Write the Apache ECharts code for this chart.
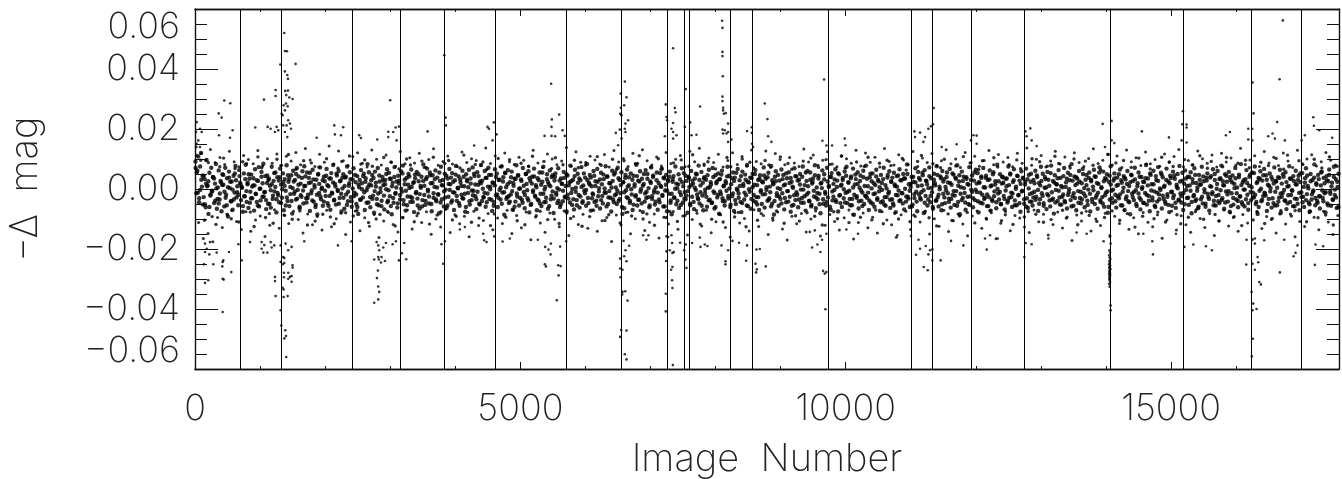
<!DOCTYPE html>
<html>
<head>
<meta charset="utf-8">
<style>
  html, body { margin: 0; padding: 0; background: #fff; }
  #chart { width: 1342px; height: 479px; }
</style>
<script src="https://cdn.jsdelivr.net/npm/echarts@6/dist/echarts.min.js"></script>
</head>
<body>
<div id="chart"></div>
<script>
// all magnitudes below are in units of 0.0001 mag
var xMax = 17580;
var xMajor = [0, 5000, 10000, 15000];
var xMinor = [1000, 2000, 3000, 4000, 6000, 7000, 8000, 9000, 11000, 12000, 13000, 14000, 16000, 17000];
var breaks = [697, 1318, 2419, 3154, 3834, 4613, 5705, 6555, 7261, 7522, 7599, 8223, 8571, 9734, 11003, 11336, 11931, 12745, 14060, 15181, 16237, 17000];

// points, above the band
var upX = [1372,1382,1413,1311,1546,1382,1418,1429,1239,1239,1387,1429,1402,1449,1500,1060,450,542,3000,3830,364,410,
  1332,1362,1398,1424,1382,1347,1433,1459,1408,1356,1475,1382,1418,926,1116,1163,1255,1229,1280,2140,2278,2150,2243,1869,2524,2550,2801,
  3134,3083,2970,3046,3098,2970,3574,3851,3856,26,15,77,103,51,26,77,579,369,538,
  5473,5484,5596,5479,5372,5479,5535,5648,5684,4496,4516,4593,4634,4573,4290,6605,6544,6631,6595,6544,
  6533,6555,6656,6615,6605,6528,6467,6615,6555,6503,7347,7235,7245,7255,7373,7384,7347,7322,7347,7399,7220,7347,7542,7609,7527,7630,7706,7762,
  8100,8106,8106,8106,8111,8106,8106,8116,8116,8126,8157,8106,8141,8192,8192,8167,8116,8244,8192,8756,8797,8807,8858,8484,8556,8556,8561,8577,9667,9642,9703,9985,9995,9790,
  11352,11270,11310,11341,11055,11142,11065,11219,11194,11961,12012,11925,12012,11705,11475,12760,12837,12780,12857,12934,13948,14086,14086,14127,13984,14551,14966,
  15181,15172,15238,15238,15161,15238,15842,15904,16252,16267,16186,16247,16186,16247,16717,16667,16631,16492,16559,16594,16748,17184,17194,17276,17055,17005,17476];
var upY = [520,460,459,415,417,392,380,367,330,310,327,328,313,305,300,298,295,286,296,446,252,238,
  251,279,285,276,262,246,229,218,212,212,201,190,173,205,207,201,207,190,196,212,206,182,179,171,179,170,165,
  208,205,191,190,162,173,192,238,212,223,190,201,190,162,151,140,196,179,171,
  351,232,248,207,177,177,176,196,177,207,201,222,182,162,145,358,318,306,279,271,
  251,246,229,218,201,198,187,190,168,146,469,282,240,229,270,256,220,201,190,179,176,168,333,222,207,179,181,275,
  561,537,457,443,376,308,293,271,262,251,253,198,196,218,190,185,185,165,157,285,233,176,157,193,206,187,151,140,365,161,145,168,146,145,
  270,201,209,216,192,188,173,173,157,179,178,162,151,149,140,192,202,176,162,143,217,227,162,153,140,192,172,
  259,216,215,205,162,155,179,190,355,252,201,201,165,162,562,366,223,176,185,168,162,239,211,196,179,162,171];

// points, below the band
var downX = [425,558,425,441,204,154,281,138,420,435,425,522,333,220,154,180,154,230,717,666,845,
  1024,1050,1111,1178,1218,1065,1024,1163,1229,1229,1239,1316,1326,1387,1398,1372,1402,1362,1424,1347,1362,
  1367,1433,1367,1433,1459,1485,1485,1500,1500,1316,1347,1372,1357,1372,1433,1485,1393,1316,1679,2197,
  2754,2816,2831,2816,2796,2811,2754,2826,2857,2919,2816,2867,2893,2831,2791,2816,2934,3037,3088,3180,3134,3246,3215,3814,3788,3840,2407,
  5561,5587,5581,5618,5376,5392,5464,5433,5381,5469,5611,5704,5269,4839,4727,4598,4481,4444,4429,4071,4147,
  6647,6570,6611,6565,6631,6549,6533,6605,6631,6533,6533,6570,6539,6631,6595,6615,6672,6585,6887,6969,6938,
  7343,7235,7235,7332,7337,7317,7337,7245,7240,7296,7337,7358,7332,7455,7271,7245,7322,7537,7552,7542,7516,7639,7768,7834,7875,7757,
  8152,8152,8192,8091,8259,8361,8484,8469,8613,8633,8623,8771,8628,8679,9688,9652,9703,9677,9483,9565,9611,9636,9447,9524,9703,10010,10189,
  16241,16257,16252,16262,16313,16237,16355,16380,16287,16252,16155,16329,16339,16671,16882,16912,17209,17219,17337,16943,16739,16287,16431,16287,16160,
  13963,14060,14071,14711,14721,15203,15341,15535,15627,12765,12857,12745,13114,13548,13702,12166,12140,12217,12335,11808,11618,11459,
  11080,11142,11229,11270,11295,11331,11331,11198,11260,10794,11003,11118,15074,14573,
  14052,14061,14048,14055,14066,14050,14058,14046,14063,14054,14049,14068,14057,14051,14060,14047,14064,14053,14059,14050,14056,14062,14048,14055,14070,14072];
var downY = [-410,-277,-299,-302,-304,-313,-251,-251,-258,-238,-243,-210,-212,-218,-210,-199,-182,-177,-238,-184,-177,
  -199,-212,-212,-195,-188,-187,-177,-177,-293,-307,-357,-404,-455,-471,-490,-498,-560,-360,-357,-329,-335,
  -279,-279,-294,-299,-293,-290,-309,-254,-262,-243,-251,-247,-227,-230,-204,-193,-182,-188,-174,-188,
  -379,-368,-343,-325,-297,-272,-235,-235,-245,-240,-227,-227,-195,-204,-177,-188,-180,-184,-174,-214,-238,-234,-180,-249,-184,-174,-174,
  -371,-288,-254,-257,-251,-258,-218,-202,-193,-182,-192,-174,-169,-165,-175,-158,-177,-171,-149,-135,-127,
  -372,-343,-341,-352,-472,-470,-493,-551,-568,-232,-265,-269,-294,-241,-224,-204,-189,-173,-154,-154,-169,
  -587,-349,-408,-304,-330,-269,-260,-208,-240,-204,-213,-210,-180,-179,-160,-158,-154,-235,-263,-185,-204,-180,-193,-185,-190,-162,
  -241,-251,-204,-188,-173,-179,-188,-239,-249,-268,-278,-258,-202,-200,-401,-273,-277,-282,-195,-185,-210,-169,-143,-138,-149,-135,-149,
  -558,-499,-404,-382,-400,-343,-310,-318,-269,-249,-252,-227,-244,-278,-224,-213,-253,-185,-191,-188,-169,-182,-171,-165,-169,
  -174,-154,-182,-174,-218,-193,-185,-191,-204,-180,-184,-227,-165,-145,-149,-202,-165,-154,-165,-188,-173,-238,
  -219,-199,-190,-218,-204,-201,-238,-260,-271,-154,-157,-169,-149,-149,
  -204,-212,-221,-228,-233,-240,-246,-251,-255,-259,-263,-267,-271,-275,-279,-283,-287,-291,-295,-299,-304,-310,-317,-326,-388,-404];

// dense band: cannot be read dot by dot, hand estimated row by row along the x axis
var bandY = [
  92,-14,61,108,-31,75,120,8,-52,44, 33,-61,97,12,-83,54,-22,71,-8,39, -47,18,83,-66,5,62,-35,27,-74,49,
  14,-58,71,-19,36,-92,58,3,-41,25, -69,44,-12,77,-28,9,-54,63,21,-37, 6,-76,52,-24,81,-43,16,-63,34,-9,
  48,-31,12,-72,66,-17,29,-55,73,1, -38,57,-26,84,-11,43,-67,20,-49,35, 11,-62,74,-33,27,-8,55,-78,39,-21,
  -44,68,15,-29,52,-71,33,-6,79,-40, 24,-57,7,46,-82,61,-16,30,-35,70, -3,42,-64,18,-26,59,-48,76,10,-31,
  55,-19,37,-73,22,-5,64,-42,13,-60, 31,-85,50,-13,72,-34,4,-56,41,26, -23,67,-47,9,35,-69,53,-15,80,-38,
  17,-52,45,-7,60,-30,28,-75,2,49, -66,38,-18,75,-41,11,56,-27,-59,32, 69,-12,23,-50,43,-83,6,-36,63,19,
  -28,51,-70,36,-4,83,-45,15,-61,29, 47,-22,-79,58,8,-33,70,-54,25,-10, -57,40,13,-68,30,-1,66,-39,54,-24,
  34,-84,21,-46,73,-16,5,-62,44,28, -35,59,-9,78,-51,16,-72,37,-25,50, 3,-43,65,-30,20,-77,48,-14,57,-55,
  26,-65,10,41,-37,82,-20,-53,33,68, -8,-48,55,19,-74,46,-29,7,62,-41, 38,-17,-81,27,74,-34,12,-58,51,-2,
  -63,35,-26,67,16,-45,53,-11,-70,29, 77,-39,4,42,-56,22,-19,61,-32,9, -76,49,31,-13,64,-52,18,-37,72,-6,
  43,-24,-67,56,14,-49,25,80,-40,1, -28,60,-59,37,-15,71,-33,8,47,-73, 20,-44,66,-21,52,-60,30,-3,-35,75,
  -12,39,-86,54,6,-27,63,-47,23,-18, 58,-69,11,34,-42,79,-25,46,-55,2, 32,-36,70,-10,-64,50,17,-31,59,-78,
  27,-50,41,-5,68,-22,13,-71,36,-38, 55,-16,-57,24,74,-44,7,-29,49,-66, 15,62,-34,40,-8,-80,28,52,-19,-47,
  69,-2,-60,35,18,-41,57,-26,10,-74, 45,-32,22,78,-13,-53,31,-68,64,4, -37,51,-20,-62,29,73,-46,12,-6,38,
  -56,83,-30,21,47,-72,9,-15,60,-43, 26,-39,67,-24,3,-65,54,16,-48,33, -11,76,-58,42,-28,-7,19,-75,61,-35,
  48,-21,5,-50,71,-40,30,-14,56,-83, 23,-64,37,-4,65,-31,13,-46,52,-18, -70,44,8,-25,81,-55,28,-36,59,-1,
  34,-77,17,-42,63,-9,50,-27,-61,25, 72,-33,40,-12,-52,6,55,-69,20,-44, 11,66,-23,-58,36,-5,47,-74,29,-16,
  58,-38,-84,24,43,-29,75,-51,2,15, -63,32,-20,69,-45,53,-10,-34,27,-79, 41,7,-54,60,-26,18,-67,35,-3,49,
  -30,78,-48,12,57,-22,-71,39,-13,31, -59,4,64,-36,23,-47,70,-8,-65,46, 19,-28,52,-82,33,-17,61,-41,9,-55,
  26,-6,74,-32,44,-60,16,-24,55,-73, 38,-50,1,67,-15,29,-43,-77,58,10, -35,48,-21,80,-57,22,-9,-66,37,51,
  -40,14,63,-27,-52,30,-70,46,-4,25, -18,72,-62,34,6,-39,54,-31,-11,77, -49,20,-85,41,59,-23,3,-56,28,-33,
  65,-14,47,-68,15,-44,36,-7,56,-26, -76,24,8,-53,69,-37,42,-19,-61,31, 50,-2,-30,75,-46,13,-72,27,60,-12,
  -41,55,-58,18,35,-25,79,-64,5,-34, 44,-16,-81,21,62,-49,32,-10,-55,71, -28,7,40,-69,53,-38,17,-3,66,-43,
  28,-75,49,-20,11,-60,37,-31,58,-13, 74,-47,23,-6,-54,42,-33,68,-86,15, 33,-24,56,-65,4,45,-39,-12,61,-50,
  -22,78,-29,9,-70,39,-45,26,52,-17, -59,13,64,-36,30,-8,-73,47,20,-41, 71,-27,-56,2,38,-15,59,-63,25,-34,
  -48,54,10,-77,43,-21,-5,66,-37,29, -14,50,-68,35,-42,82,-26,16,-60,7, 40,-52,24,-30,69,-9,-74,57,-18,31,
  -35,12,46,-80,63,-23,27,-55,3,72, -44,36,-11,-66,51,19,-39,76,-28,-58, 8,42,-71,60,-16,33,-47,-4,55,22,
  -32,67,-62,14,-20,48,-53,38,-7,79, -43,25,-84,6,58,-30,41,-13,-69,34, 17,-50,73,-25,-2,45,-61,28,-37,64,
  -10,53,-78,21,-46,37,-19,70,-33,5, 44,-57,30,-27,62,-72,12,-40,56,-8, 26,-64,81,-15,-35,49,-51,18,39,-23,
  -68,34,9,-45,75,-29,52,-12,-60,23, 66,-38,1,-54,43,-20,28,-76,59,-6, 35,-49,15,68,-31,-63,47,-17,24,-42,
  -55,30,-9,61,-26,40,-73,20,-34,74, -14,51,-47,4,33,-67,57,-22,11,-58, 78,-36,27,-82,46,-3,16,-40,63,-28,
  37,-52,6,-18,70,-44,22,-65,54,-11, 29,-37,83,-24,-56,42,13,-71,35,-7, 60,-30,-48,19,67,-15,-61,31,47,-39,
  -2,55,-75,26,-33,8,64,-50,41,-21, -66,17,72,-43,3,-27,58,-59,36,-12, 49,-79,24,-35,76,-6,-46,28,52,-19,
  -62,38,14,-31,65,-54,21,-9,43,-70, 32,-25,60,-41,10,-84,48,-16,27,-37, 71,-4,-57,19,55,-29,-68,40,6,-46,
  23,-13,80,-52,35,-23,-74,47,16,-38, 61,-8,-60,30,-42,73,-18,2,54,-65, 39,-33,11,-49,68,-26,25,-77,44,-10,
  -56,58,-21,34,-63,7,50,-36,77,-15, -45,28,-70,18,62,-3,-30,41,-53,12, 56,-81,33,-24,69,-40,20,-6,-64,47,
  15,-34,74,-48,26,-11,-59,38,52,-27, -72,9,43,-17,66,-39,30,-55,1,60, -20,-47,36,78,-31,13,-66,49,-8,24,
  -42,57,-76,29,-14,45,-52,17,70,-35, 5,-61,40,-25,83,-44,22,-2,-58,33, 63,-19,-69,11,48,-37,55,-12,-28,75,
  -50,20,-83,37,-6,59,-41,28,-23,67, -16,46,-73,14,-33,52,3,-62,31,-47, 72,-9,25,-54,39,-29,64,-79,18,-13,
  41,-38,56,-67,8,-21,76,-43,34,-4, -57,27,-32,61,15,-49,44,-71,23,-11, 53,-26,-60,36,69,-17,10,-45,-75,50,
  -35,30,-5,82,-54,19,-40,47,-24,-65, 12,58,-30,37,-14,-78,43,-48,26,65, -8,-56,21,-36,74,-20,33,-63,7,51
];

// second pass over the band centre, estimated on a different spacing
var coreY = [
  70,55,-12,-44,-3,31,44,-27,-51,18, 9,26,-60,-18,-6,40,35,-39,2,-33, -48,-15,22,13,47,-9,-29,-54,6,38,
  24,-41,-2,-35,52,29,-11,-20,43,15, 4,-57,-24,33,-7,21,49,-46,-31,8, 36,12,-16,-43,27,-58,1,41,19,-26,
  -10,-37,45,30,-50,-4,16,-22,53,7, -34,-13,28,39,-47,-1,23,11,-55,-28, 46,34,-17,-40,3,25,-8,50,-32,14,
  -59,-21,37,-5,10,42,-45,-30,20,54, -14,-38,32,5,-52,-19,48,17,-25,0, 29,-42,-6,44,13,-56,-23,35,-12,22,
  -36,8,51,-3,-49,26,-16,38,-29,10, 41,-53,-9,19,33,-41,2,-24,47,-18, -60,15,30,-35,-1,43,-11,24,-46,6,
  56,-27,12,-33,37,-7,21,-51,-15,45, 3,-39,28,-22,16,50,-44,-4,34,-57, 9,-30,40,-13,25,-48,18,-20,1,52,
  -37,31,-6,-54,14,42,-26,7,-43,23, 36,-10,-32,49,-17,4,-58,27,11,-40, 39,-2,-25,46,-50,20,-14,33,-35,5,
  -19,55,-45,13,30,-8,-28,44,-55,17, -3,38,-38,24,-12,48,-23,2,-47,32, 10,-31,41,-16,-60,26,6,-41,35,-5,
  -21,51,15,-34,-9,43,-52,19,28,-27, -13,37,-44,8,47,-1,-36,22,-56,12, 40,-18,-29,31,4,-49,25,-11,53,-33,
  16,-24,-42,39,-7,20,-59,34,-15,45, 1,-30,27,-46,11,-20,50,-4,-38,36, -53,18,-10,42,-26,6,-35,29,-48,14,
  55,-16,-2,-43,33,23,-57,9,-22,46, -32,40,-12,3,-39,28,-51,17,-6,37, -28,49,-19,12,-45,26,0,-34,43,-9,
  -54,21,35,-25,7,-41,52,-14,-3,30, -47,15,38,-31,-18,44,10,-56,24,-8, 32,-37,-23,48,2,-13,41,-50,19,-29,
  5,27,-44,54,-17,-6,36,-33,13,-60, 22,-11,47,-27,8,39,-40,-1,31,-52, 16,-21,43,-36,25,-9,-48,11,50,-15,
  -30,34,3,-55,20,-24,45,-4,-42,29, -12,-35,53,7,-20,38,-58,14,-5,26, 41,-46,-16,33,-28,1,18,-39,49,-10,
  -53,23,9,-32,44,-22,-7,37,-49,13, 28,-43,4,51,-18,-34,30,-11,-56,21, 35,-2,-26,46,-38,6,15,-45,40,-13,
  -60,25,-19,32,-8,48,-31,11,-41,19, 42,-23,2,-52,36,-15,27,-37,54,-4, -29,10,43,-47,17,-12,31,-55,24,-1,
  38,-33,6,-20,50,-44,13,-27,34,-9, -50,22,45,-17,-3,39,-36,8,-58,29, 16,-40,26,-14,47,-25,0,-48,33,12,
  -30,52,-7,-42,20,37,-56,4,-21,43, -11,28,-35,15,-46,41,-2,-24,55,-18, 9,-39,31,-53,23,-6,46,-28,-13,35,
  -51,18,3,-34,49,-16,-43,25,11,-59, 40,-8,-26,32,-37,7,53,-22,-47,14, 30,-1,-45,44,-10,21,-33,36,-54,5,
  -19,48,-29,17,-41,27,-5,-57,39,10, -24,34,-12,-38,51,2,-49,19,-15,42, -31,26,6,-44,-3,33,-52,13,-27,47,
  -9,-36,24,38,-55,15,-20,8,45,-40, 29,-13,-48,35,1,-25,50,-32,-6,18, -58,41,-17,22,-42,10,37,-30,-11,54,
  -4,-46,28,16,-35,43,-23,4,-60,31, 12,-38,47,-19,-1,36,-51,25,-28,7, 40,-14,-43,20,-33,52,-7,-22,34,-56,
  11,46,-16,-37,27,3,-45,39,-26,14, -53,30,-9,-31,55,-2,18,-41,23,-12, 42,-48,6,-29,37,-18,-57,32,9,-35,
  49,-24,15,-44,0,26,-10,-50,41,21, -33,-5,35,-39,13,48,-27,-15,29,-54, 8,44,-21,-47,17,-8,38,-34,24,-59,
  33,2,-42,51,-13,-28,19,-36,45,-3, -49,12,27,-23,-56,40,5,-17,31,-38, 53,-11,-32,22,-45,16,36,-6,-52,10,
  -26,43,-40,7,34,-20,-1,47,-58,28, -14,-30,39,18,-46,25,-9,-35,50,3, -24,13,-53,37,-16,30,-43,-4,42,-29,
  20,-12,55,-37,6,-48,26,-21,33,-8, -60,44,15,-31,-2,35,-41,11,-25,49, -18,29,-55,4,38,-33,17,-7,-44,23,
  46,-27,-10,32,-50,9,-15,41,-36,1, 24,-47,36,-19,12,-39,52,-5,-28,16, -56,43,-12,27,-34,-3,48,-22,7,-42,
  30,-17,-53,19,37,-9,-30,45,-46,14, 2,-38,25,-24,54,-13,-51,35,10,-29, 40,-6,-43,21,-20,47,-35,5,-59,31,
  15,-26,42,-1,-49,28,-16,-33,38,8, -11,-54,50,-23,17,-41,33,-4,-37,26, 12,-45,44,-18,-7,39,-57,22,-30,3,
  36,-14,-40,48,-25,13,-52,29,-2,-34, 20,-47,41,-10,6,-28,53,-19,-43,24, -60,34,1,-36,46,-12,-22,31,-50,11,
  -8,40,-31,18,-55,27,4,-42,37,-15, -26,49,-3,-39,23,-48,10,35,-20,-6, 43,-58,16,-33,30,-13,52,-27,-44,7,
  21,-37,45,2,-51,26,-18,-9,38,-30, 14,-46,33,-24,55,-5,-41,19,-11,29, -54,47,-16,8,-35,41,-2,-28,24,-60
];

// thinner cloud on both sides of the band, hand estimated the same way
var fringeY = [
  140,-112,118,-165,96,-148,132,-176,88,-95, 105,-128,82,-84,126,-72,91,-108,74,-135, 112,-76,98,-141,84,-103,128,-90,77,-158, 101,-121,86,-69,117,-131,79,-87,109,-115,
  93,-74,122,-102,81,-147,135,-83,97,-119, 75,-92,116,-137,89,-71,143,-126,83,-99, 127,-81,94,-152,78,-110,108,-73,121,-139, 86,-96,73,-124,130,-85,99,-162,80,-107,
  113,-78,90,-118,76,-143,125,-94,84,-70, 104,-133,87,-89,119,-112,72,-76,98,-151, 134,-100,79,-127,92,-68,110,-145,83,-86, 75,-116,123,-91,88,-159,101,-74,95,-122,
  78,-105,137,-82,85,-136,111,-97,74,-115, 120,-71,91,-148,82,-88,106,-129,96,-77, 77,-169,129,-93,87,-113,72,-144,117,-80, 100,-101,81,-126,93,-73,138,-155,76,-92,
  124,-118,89,-84,79,-131,109,-70,97,-141, 83,-106,115,-95,73,-175,128,-87,90,-120, 102,-78,75,-149,119,-99,86,-72,131,-138, 94,-111,80,-83,107,-163,77,-94,122,-117,
  85,-75,99,-134,112,-90,74,-153,126,-102, 91,-81,136,-123,78,-71,103,-146,88,-109, 116,-86,73,-128,95,-160,121,-79,82,-113, 108,-98,76,-140,130,-69,92,-125,84,-88,
  127,-152,72,-104,118,-77,98,-133,81,-170, 105,-91,87,-116,75,-82,133,-143,90,-100, 113,-73,79,-157,96,-121,124,-85,83,-108, 74,-137,110,-96,101,-70,86,-167,129,-112,
  77,-80,120,-129,89,-94,106,-147,73,-76, 135,-103,92,-119,80,-161,114,-86,97,-74, 82,-135,125,-92,75,-110,103,-78,88,-150, 118,-99,78,-124,94,-71,131,-142,84,-106,
  100,-83,72,-117,122,-156,87,-90,109,-73, 76,-131,95,-101,128,-79,81,-166,115,-114, 90,-75,105,-139,74,-88,119,-97,86,-127, 137,-145,79,-70,99,-109,112,-84,73,-153,
  93,-118,126,-77,83,-130,107,-93,77,-172, 121,-87,88,-107,75,-74,102,-140,134,-100, 85,-122,96,-81,116,-158,80,-91,110,-115, 72,-72,130,-134,91,-96,104,-149,78,-78,
  123,-111,84,-126,98,-86,76,-164,117,-103, 89,-73,108,-137,132,-89,74,-119,95,-144, 81,-76,127,-98,101,-128,86,-82,113,-155, 73,-106,119,-70,90,-123,103,-95,79,-141,
  136,-85,82,-113,97,-168,111,-77,75,-132, 125,-92,87,-102,106,-147,78,-71,120,-117, 93,-83,72,-159,129,-108,84,-125,100,-79,114,-94, 77,-136,91,-74,122,-110,96,-152,80,-88
];

// edge of the band, where the cloud starts to thin out
var edgeY = [
  112,96,-104,88,-92,-118,74,103,-86,-99, 68,-110,91,84,-77,-125,107,71,-95,-82, -114,99,78,-88,115,-101,66,-73,94,-120,
  87,-107,73,-84,101,-93,-116,69,92,-79, 110,-90,-72,83,97,-112,76,-100,-85,105, -75,89,-123,67,-96,100,80,-109,-81,93,
  72,-117,106,-87,-76,85,95,-103,-91,70, 113,-78,-111,82,-97,90,65,-122,-83,102, 77,-94,98,-70,-106,86,-119,75,109,-89,
  -74,92,-102,68,104,-115,81,-80,-98,96, 71,-124,88,-92,-71,108,79,-105,-86,99, 64,-113,94,-77,-90,84,111,-100,-83,73,
  -121,101,69,-95,-75,87,-108,97,-88,76, 114,-72,-117,83,91,-101,67,-84,-110,105, 74,-93,-78,100,-126,89,70,-104,-82,95,
  80,-97,-73,107,-114,85,66,-89,-107,93, -79,103,-91,72,-120,98,82,-76,-99,110, 69,-112,-85,90,-94,75,106,-103,-70,86,
  -116,96,78,-81,-100,102,63,-109,-87,92, 112,-74,-96,84,-123,71,99,-83,-105,77, -90,108,-78,88,-113,65,94,-98,-72,104,
  73,-106,-86,81,-118,97,68,-93,-75,101, -84,91,-111,76,-102,109,85,-71,-97,70, 100,-119,-80,93,-88,79,-108,64,-95,115,
  -73,87,-104,95,-82,72,-127,103,-91,83, 67,-99,-77,106,-110,90,75,-86,-116,98, -94,80,-70,111,-101,69,92,-85,-107,74,
  105,-79,-92,86,-122,96,71,-103,-76,89, -115,78,-98,102,-83,66,113,-90,-72,94, 82,-109,-74,99,-96,70,-87,107,-120,76
];

var xAxisBase = {
  type: "value",
  min: 0,
  max: xMax,
  splitLine: { show: false },
  axisLine: { onZero: false, lineStyle: { color: "#111", width: 1.4 } },
};
var yAxisBase = {
  type: "value",
  min: -0.06,
  max: 0.06,
  interval: 0.02,
  splitLine: { show: false },
  axisLine: { onZero: false, lineStyle: { color: "#111", width: 1.4 } },
  axisTick: { inside: true, length: 23, lineStyle: { color: "#111", width: 1 } },
  minorTick: { show: true, splitNumber: 4, length: 12, lineStyle: { color: "#111", width: 1 } },
};
var labelFont = { fontFamily: "Inter", fontWeight: 200, fontSize: 36, color: "#222" };
var nameFont = Object.assign({}, labelFont, { fontSize: 38 });

function xAxisAt(position, ticks, len, withLabels) {
  return Object.assign({}, xAxisBase, {
    position: position,
    axisTick: { inside: true, length: len, customValues: ticks, lineStyle: { color: "#111", width: 1 } },
    axisLabel: withLabels
      ? Object.assign({ customValues: ticks, margin: 22, formatter: function (v) { return String(v); } }, labelFont)
      : { show: false },
  });
}

function dots(name, size, data) {
  return {
    name: name,
    type: "scatter",
    symbol: "circle",
    symbolSize: size,
    itemStyle: { color: "#000" },
    data: data,
  };
}
function evenly(values) {
  return values.map(function (v, i) { return [(i + 0.5) * xMax / values.length, v / 10000]; });
}
function paired(xs, ys) {
  return xs.map(function (x, i) { return [x, ys[i] / 10000]; });
}

var chart = echarts.init(document.getElementById("chart"), null, { renderer: "canvas" });
chart.setOption({
  animation: false,
  backgroundColor: "#fff",
  grid: { left: 195, right: 3, top: 9, bottom: 110, outerBoundsMode: "none" },
  xAxis: [
    Object.assign(xAxisAt("bottom", xMajor, 7, true), {
      name: "Image  Number",
      nameLocation: "middle",
      nameGap: 72,
      nameTextStyle: nameFont,
    }),
    xAxisAt("top", xMajor, 7, false),
    xAxisAt("bottom", xMinor, 3, false),
    xAxisAt("top", xMinor, 3, false),
  ],
  yAxis: [
    Object.assign({}, yAxisBase, {
      position: "left",
      name: "\u2212\u0394  mag",
      nameLocation: "middle",
      nameGap: 150,
      nameTextStyle: nameFont,
      axisLabel: Object.assign({
        margin: 15,
        verticalAlignMaxLabel: "top",
        verticalAlignMinLabel: "bottom",
        formatter: function (v) {
          return (v < 0 ? "\u2212" : "") + Math.abs(v).toFixed(2);
        },
      }, labelFont),
    }),
    Object.assign({}, yAxisBase, { position: "right", axisLabel: { show: false } }),
  ],
  series: [
    {
      type: "scatter",
      data: [],
      markLine: {
        silent: true,
        symbol: "none",
        label: { show: false },
        lineStyle: { color: "#000", width: 1, type: "solid" },
        data: breaks.map(function (b) { return { xAxis: b }; }),
      },
    },
    dots("band", 4.4, evenly(bandY)),
    dots("core", 4.4, evenly(coreY)),
    dots("edge", 3.4, evenly(edgeY)),
    dots("fringe", 3, evenly(fringeY)),
    dots("above", 2.6, paired(upX, upY)),
    dots("below", 2.6, paired(downX, downY)),
  ],
});
</script>
</body>
</html>
